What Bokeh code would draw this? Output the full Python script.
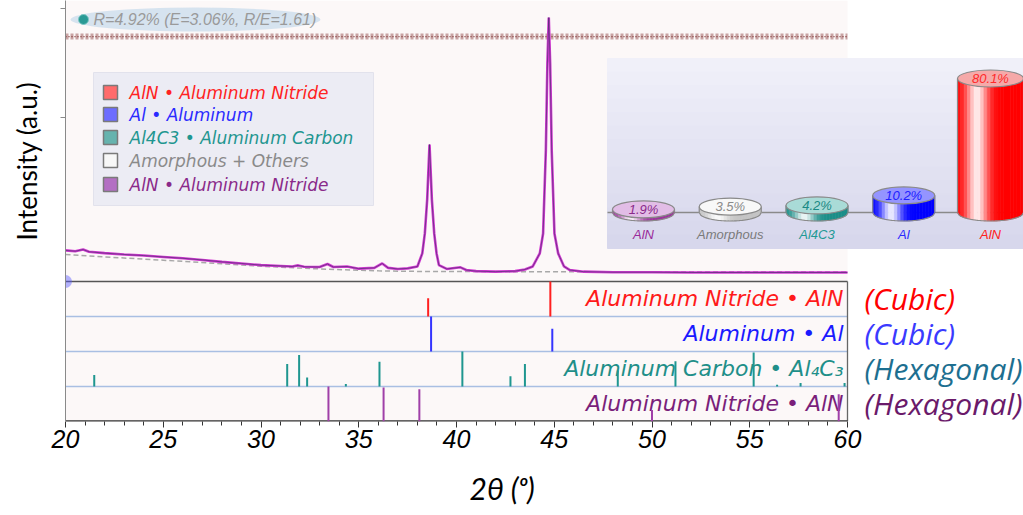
import numpy as np
from bokeh.plotting import figure
from bokeh.models import Range1d, FixedTicker, Title, LinearAxis
from bokeh.core.properties import value
from bokeh.embed import file_html
from bokeh.resources import INLINE

# ---------------- data ----------------
two_theta = [20.0, 20.5, 20.9, 21.2, 22.0, 23.0, 24.0, 25.0, 26.0, 27.0, 28.0, 29.0, 30.0,
             31.0, 31.6, 31.9, 32.2, 33.0, 33.4, 33.7, 34.4, 35.0, 35.8, 36.2, 36.5, 37.0,
             37.5, 38.0, 38.25, 38.38, 38.5, 38.62, 38.74, 38.86, 38.98, 39.1, 39.5, 40.2,
             40.5, 41.0, 42.0, 43.0, 43.5, 43.9, 44.26, 44.43, 44.57, 44.65, 44.72, 44.79,
             44.87, 45.01, 45.2, 45.5, 45.8, 46.5, 48.0, 50.0, 52.0, 55.0, 58.0, 60.0]
intensity = [114, 111, 117, 109, 104, 99, 95, 90, 85, 79, 72, 66, 60,
             57, 55, 59, 54, 53, 64, 53, 55, 47, 50, 66, 50, 46,
             48, 55, 103, 176, 300, 502, 300, 176, 103, 60, 46, 52,
             42, 38, 36, 38, 44, 55, 103, 176, 480, 800, 967, 800,
             480, 176, 103, 55, 42, 36, 34, 34, 33, 33, 33, 33]
bg_theta = [20, 22, 25, 28, 30, 33, 36, 38, 42, 50, 60]
bg_intensity = [99, 90, 78, 65, 56, 46, 39, 37, 36, 36, 36]
diff_theta = [20.0, 60.0]
diff_level = [897, 897]

major_ticks = [20, 25, 30, 35, 40, 45, 50, 55, 60]
minor_ticks = [t for t in range(21, 60) if t % 5 != 0]
intensity_ticks = [600, 1000]

aln_cubic_pos = [38.55, 44.8]
aln_cubic_rel = [0.52, 1.0]
al_pos = [38.7, 44.9]
al_rel = [1.0, 0.65]
al4c3_pos = [21.47, 31.34, 31.95, 32.36, 34.34, 36.06, 40.3, 42.76, 43.5, 48.25, 51.2, 55.2, 56.4, 57.6, 59.85]
al4c3_rel = [0.33, 0.64, 0.9, 0.26, 0.07, 0.71, 1.0, 0.29, 0.64, 0.46, 0.72, 0.97, 0.05, 0.1, 0.1]
aln_hex_pos = [33.45, 36.27, 38.1, 50.0, 59.55]
aln_hex_rel = [1.0, 0.97, 0.92, 0.33, 0.78]

phase_names = ["Aluminum Nitride • AlN", "Aluminum • Al", "Aluminum Carbon • Al₄C₃", "Aluminum Nitride • AlN"]
crystal_systems = ["(Cubic)", "(Cubic)", "(Hexagonal)", "(Hexagonal)"]
legend_labels = ["AlN • Aluminum Nitride", "Al • Aluminum", "Al4C3 • Aluminum Carbon",
                 "Amorphous + Others", "AlN • Aluminum Nitride"]
quant_labels = ["AlN", "Amorphous", "Al4C3", "Al", "AlN"]
quant_values = [1.9, 3.5, 4.2, 10.2, 80.1]
fit_text = "R=4.92% (E=3.06%, R/E=1.61)"
x_title = "2θ (ᵒ)"
y_title = "Intensity (a.u.)"

# ---------------- styles ----------------
phase_colors = ["#ff1a1a", "#1a1aff", "#1f8f89", "#7a1f7a"]
system_colors = ["#ff0000", "#3a3aff", "#1d6f90", "#6a1a6a"]
stick_colors = ["#ff2020", "#3535ff", "#1f9690", "#a040a8"]
legend_swatch = ["#ff6b6b", "#6d6dff", "#66b3ae", "#f7f7f7", "#b36fc3"]
legend_text_col = ["#ff2222", "#2a2aff", "#1f9690", "#8a8a8a", "#8a2a8a"]
cyl_base = ["#9b359b", "#c4c4c4", "#1b8e88", "#0000ff", "#ff0000"]
cyl_top = ["#e2bde6", "#f8f8f8", "#a9dbd7", "#9494ff", "#f5a9a9"]
cyl_txt = ["#8a2a8a", "#8a8a8a", "#1b8a85", "#2020ff", "#ff2a2a"]
cat_txt = ["#9a2a9a", "#7a7a7a", "#1f9a95", "#2a2aff", "#ff2020"]


def hex2rgb(h):
    h = h.lstrip("#")
    return tuple(int(h[i:i + 2], 16) for i in (0, 2, 4))


def mix(c1, c2, t):
    a, b = hex2rgb(c1), hex2rgb(c2)
    return "#%02x%02x%02x" % tuple(int(round(a[i] * (1 - t) + b[i] * t)) for i in range(3))


# ---------------- geometry of the page ----------------
W, H = 1023, 515
FL, FR, FT, FB = 65, 1023, 0, 421
X0PX, X1PX = 65, 847
pxdeg = (X1PX - X0PX) / 40.0
YBASE, YTOP = 281, 8
upp = 1000.0 / (YBASE - YTOP)
ROW = 35.0

p = figure(width=W, height=H,
           x_range=Range1d(20, 20 + (FR - X0PX) / pxdeg),
           y_range=Range1d(-(FB - YBASE) * upp, 1000 + (YTOP - FT) * upp),
           output_backend="svg", toolbar_location=None,
           min_border_left=FL, min_border_right=0, min_border_top=0, min_border_bottom=H - FB,
           background_fill_color="white", border_fill_color="white", outline_line_color=None)
p.grid.visible = False

p.extra_x_ranges = {"px": Range1d(FL, FR)}
p.extra_y_ranges = {"py": Range1d(FB, FT), "stick": Range1d(0, (FB - FT) / ROW)}

IX0, IXS = 643, 86.75
SPCT = 134 / 80.1
IBASE = 212
p.extra_x_ranges["ix"] = Range1d((FL - IX0) / IXS, (FR - IX0) / IXS)
p.extra_y_ranges["iy"] = Range1d(-(FB - IBASE) / SPCT, (IBASE - FT) / SPCT)

# axes
xa = p.xaxis[0]
xa.ticker = FixedTicker(ticks=major_ticks, minor_ticks=minor_ticks)
xa.axis_line_color = None
xa.major_tick_out = 6
xa.major_tick_in = 0
xa.minor_tick_out = 4
xa.minor_tick_in = 0
xa.major_tick_line_color = "#333333"
xa.minor_tick_line_color = "#333333"
xa.major_label_text_font = "Liberation Sans"
xa.major_label_text_font_style = "italic"
xa.major_label_text_font_size = "25px"
xa.major_label_text_color = "black"
xa.major_label_standoff = 2

ya = p.yaxis[0]
ya.ticker = FixedTicker(ticks=intensity_ticks, minor_ticks=[])
ya.major_label_overrides = {t: "" for t in intensity_ticks}
ya.axis_line_color = "#8a8a8a"
ya.major_tick_line_color = "#8a8a8a"
ya.major_tick_out = 5
ya.major_tick_in = 0


def spacer(gap, tick, **kw):
    # invisible axis used only to push the title away from the frame
    return LinearAxis(ticker=FixedTicker(ticks=[tick], minor_ticks=[]), axis_line_color=None,
                      major_tick_line_color=None, minor_tick_line_color=None,
                      major_tick_out=gap, major_tick_in=0, minor_tick_out=0, minor_tick_in=0,
                      major_label_standoff=0, major_label_overrides={tick: ""},
                      major_label_text_font_size="1px", **kw)


p.add_layout(spacer(13, 200, y_range_name="py"), "left")
p.add_layout(spacer(12, 500, x_range_name="px"), "below")
p.add_layout(Title(text=y_title, align="left", offset=181, text_font="Lato",
                   text_font_size="26px", text_font_style="normal", text_color="black"), "left")
p.add_layout(Title(text=x_title, align="left", offset=404, text_font="Lato",
                   text_font_size="30px", text_font_style="italic", text_color="black"), "below")

# background of plot area
p.quad(left=[20], right=[60], top=[FT], bottom=[FB], y_range_name="py",
       fill_color="#fcf8f8", line_color=None)

# ---------------- main pattern ----------------
p.line(diff_theta, diff_level, line_width=6, line_color="#c39999", line_dash="3 2", line_alpha=0.9)
p.line(diff_theta, diff_level, line_width=1.3, line_color="#7a3030", line_dash="1 2")
p.line(bg_theta, bg_intensity, line_width=1.5, line_color="#a8a8a8", line_dash="5 3")
p.line(two_theta, intensity, line_width=2.6, line_color="#d23ad2")
p.line(two_theta, intensity, line_width=1.0, line_color="#2b2b55", line_alpha=0.55)

# fit text
p.ellipse(x=[195], y=[19], width=[250], height=[24], x_range_name="px", y_range_name="py",
          fill_color="#c9dcec", fill_alpha=0.75, line_color=None)
p.scatter(x=[83], y=[19], x_range_name="px", y_range_name="py", size=10,
          fill_color="#2a9a95", line_color="#7fc8c4")
p.text(x=[93], y=[19], text=[fit_text], x_range_name="px", y_range_name="py",
       text_font=value("Liberation Sans"), text_font_style="italic", text_font_size="16px",
       text_color="#9a9a9a", text_align="left", text_baseline="middle")

# legend box
p.quad(left=[93], right=[373], top=[72], bottom=[205], x_range_name="px", y_range_name="py",
       fill_color="#ececf4", line_color="#e2e2ec")
leg_y = [92, 114, 137, 160, 184]
p.rect(x=[110] * 5, y=leg_y, width=14, height=14, x_range_name="px", y_range_name="py",
       fill_color=legend_swatch, line_color="#7a7a7a", line_width=1.5)
p.text(x=[129] * 5, y=leg_y, text=legend_labels, x_range_name="px", y_range_name="py",
       text_color=legend_text_col, text_font=value("DejaVu Sans"), text_font_style="italic",
       text_font_size="17px", text_align="left", text_baseline="middle")

# ---------------- stick panel ----------------
row_y = [298, 333, 368, 403]
p.text(x=[843] * 4, y=row_y, text=phase_names, x_range_name="px", y_range_name="py",
       text_color=phase_colors, text_font=value("DejaVu Sans"), text_font_style="italic",
       text_font_size="22px", text_align="right", text_baseline="middle")
p.text(x=[864] * 4, y=row_y, text=crystal_systems, x_range_name="px", y_range_name="py",
       text_color=system_colors, text_font=value("Open Sans"), text_font_style="italic",
       text_font_size="30px", text_align="left", text_baseline="middle")

p.segment(x0=[20] * 3, x1=[60] * 3, y0=[1, 2, 3], y1=[1, 2, 3], y_range_name="stick",
          line_color="#a9bfe3", line_width=1.3)
p.segment(x0=[20], x1=[60], y0=[4], y1=[4], y_range_name="stick", line_color="#555555", line_width=1.3)
p.segment(x0=[60], x1=[60], y0=[0], y1=[4], y_range_name="stick", line_color="#666666", line_width=1.3)
p.segment(x0=[20], x1=[60], y0=[0], y1=[0], y_range_name="stick", line_color="#333333", line_width=2.4)

for k, (pos, rel) in enumerate([(aln_cubic_pos, aln_cubic_rel), (al_pos, al_rel),
                                (al4c3_pos, al4c3_rel), (aln_hex_pos, aln_hex_rel)]):
    base = 3 - k
    p.segment(x0=pos, x1=pos, y0=[base] * len(pos), y1=[base + r for r in rel],
              y_range_name="stick", line_color=stick_colors[k], line_width=2)

# origin dot
p.scatter(x=[65], y=[281], x_range_name="px", y_range_name="py", size=13,
          fill_color="#5a5aff", fill_alpha=0.45, line_color=None)

# ---------------- inset: phase amounts ----------------
nb = 14
edges = np.linspace(58, 248, nb + 1)
bcols = [mix("#f1f1f9", "#d6d6ec", (j + 0.5) / nb) for j in range(nb)]
p.quad(left=[607] * nb, right=[1023] * nb, top=list(edges[:-1]), bottom=list(edges[1:]),
       x_range_name="px", y_range_name="py", fill_color=bcols, line_color=bcols)
p.segment(x0=[607], x1=[1023], y0=[0], y1=[0], x_range_name="px", y_range_name="iy",
          line_color="#8a8a8a", line_width=1.6)

bpct = 8.5 / SPCT
for i, v in enumerate(quant_values):
    w = (33 if i == 4 else 31) / IXS
    N = 20
    ed = np.linspace(i - w, i + w, N + 1)
    xs_l, ys_l, cols = [], [], []
    for k in range(N):
        xx = np.linspace(ed[k], ed[k + 1], 4)
        yb = -bpct * np.sqrt(np.clip(1 - ((xx - i) / w) ** 2, 0, 1))
        xs_l.append([ed[k], ed[k + 1]] + list(xx[::-1]))
        ys_l.append([v, v] + list(yb[::-1]))
        t = (k + 0.5) / N
        m = 0.92 * np.exp(-((t - 0.3) / 0.17) ** 2)
        cols.append(mix(cyl_base[i], "#ffffff", m))
    p.patches(xs_l, ys_l, fill_color=cols, line_color=cols, line_width=0.6,
              x_range_name="ix", y_range_name="iy")
    xx = np.linspace(i - w, i + w, 40)
    yb = -bpct * np.sqrt(np.clip(1 - ((xx - i) / w) ** 2, 0, 1))
    p.line(list(xx), list(yb), x_range_name="ix", y_range_name="iy", line_color="#8a8a8a", line_width=1.2)
    p.segment(x0=[i - w, i + w], x1=[i - w, i + w], y0=[0, 0], y1=[v, v],
              x_range_name="ix", y_range_name="iy", line_color="#8a8a8a", line_width=1.2)
    p.ellipse(x=[i], y=[v], width=[2 * w], height=[2 * bpct], x_range_name="ix", y_range_name="iy",
              fill_color=cyl_top[i], line_color="#8a8a8a", line_width=1.2)

p.text(x=list(range(5)), y=quant_values, text=["%.1f%%" % v for v in quant_values],
       x_range_name="ix", y_range_name="iy", text_color=cyl_txt,
       text_font=value("Liberation Sans"), text_font_style="italic", text_font_size="13px",
       text_align="center", text_baseline="middle")
p.text(x=list(range(5)), y=[234] * 5, text=quant_labels, x_range_name="ix", y_range_name="py",
       text_color=cat_txt, text_font=value("Liberation Sans"), text_font_style="italic",
       text_font_size="13px", text_align="center", text_baseline="middle")

open("out.html", "w").write(file_html(p, INLINE))
